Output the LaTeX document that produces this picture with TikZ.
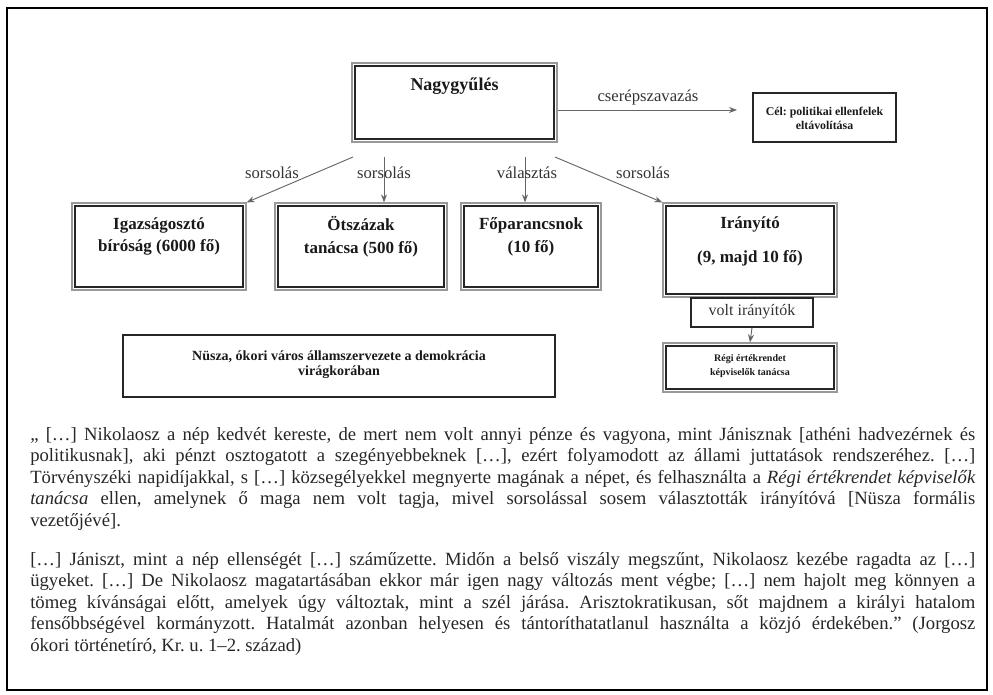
\documentclass[tikz,border=0pt]{standalone}
\usepackage{fontspec}
\setmainfont{Liberation Serif}
\usetikzlibrary{arrows.meta,calc}
\begin{document}
\frenchspacing
\begin{tikzpicture}[x=0.75pt,y=-0.75pt,
  outerbox/.style={draw=black!40, line width=0.9pt, inner sep=0pt},
  singlebox/.style={draw=black!85, line width=1.3pt, inner sep=0pt},
  innerline/.style={draw=black!85, line width=1.5pt},
  arr/.style={draw=black!60, line width=0.7pt, -{Stealth[length=6pt,width=4.5pt]}},
  lbl/.style={font=\fontsize{12.5}{14}\selectfont, text=black!80},
  boxtxt/.style={font=\bfseries\fontsize{12.75}{17}\selectfont, align=center, text=black!90},
  body/.style={anchor=north west, inner sep=0pt, text width=708.75pt, align=justify,
    font=\fontsize{14}{16.1}\selectfont, text=black!85}]
\useasboundingbox (0,0) rectangle (993,695);
\draw[line width=1.6pt] (7,8) rectangle (987,690);

% boxes
\node[outerbox, minimum width=205*0.75pt, minimum height=79*0.75pt] (ngy) at (454.5,102.5) {};
\node[singlebox, minimum width=143*0.75pt, minimum height=49*0.75pt] (cel) at (824.5,117.5) {};
\node[outerbox, minimum width=174*0.75pt, minimum height=87*0.75pt] (igaz) at (159,246.5) {};
\node[outerbox, minimum width=172*0.75pt, minimum height=87*0.75pt] (otsz) at (361,246.5) {};
\node[outerbox, minimum width=140*0.75pt, minimum height=87*0.75pt] (fop) at (531,246.5) {};
\node[outerbox, minimum width=174*0.75pt, minimum height=94*0.75pt] (irany) at (750,250) {};
\node[singlebox, minimum width=122*0.75pt, minimum height=29*0.75pt] (volt) at (752,312.5) {};
\node[outerbox, minimum width=174*0.75pt, minimum height=49*0.75pt] (regi) at (750,367.5) {};
\node[singlebox, minimum width=432*0.75pt, minimum height=62*0.75pt] (nusza) at (339,366) {};

\foreach \n in {ngy,igaz,otsz,fop,irany,regi}
  \draw[innerline] ($(\n.north west)+(4,4)$) rectangle ($(\n.south east)+(-4,-4)$);

% texts in boxes
\node[boxtxt, font=\bfseries\fontsize{13.5}{17}\selectfont] (ngyt) at (454.5,86) {Nagygyűlés};
\node[boxtxt, font=\bfseries\fontsize{8.9}{10.5}\selectfont] (celt) at (824.5,118) {Cél: politikai ellenfelek\\eltávolítása};
\node[boxtxt] (igazt) at (159,236.5) {Igazságosztó\\bíróság (6000 fő)};
\node[boxtxt] (otszt) at (361,236.5) {Ötszázak\\tanácsa (500 fő)};
\node[boxtxt] (fopt) at (531,236.5) {Főparancsnok\\(10 fő)};
\node[boxtxt, font=\bfseries\fontsize{12.75}{25}\selectfont] (iranyt) at (750,241.5) {Irányító\\(9, majd 10 fő)};
\node[lbl, font=\fontsize{12}{14}\selectfont] (voltt) at (752,312) {volt irányítók};
\node[boxtxt, font=\bfseries\fontsize{7.5}{10.5}\selectfont] (regit) at (750,366) {Régi értékrendet\\képviselők tanácsa};
\node[boxtxt, font=\bfseries\fontsize{10.5}{11}\selectfont] (nuszat) at (339,365) {Nüsza, ókori város államszervezete a demokrácia\\virágkorában};

% connectors
\coordinate (s1) at (353,157);
\coordinate (s2) at (384,157);
\coordinate (s3) at (525,157);
\coordinate (s4) at (555,157);
\coordinate (c1) at (737,110);
\draw[arr] (s1) -- (igaz.north east);
\draw[arr] (s2) -- (s2 |- otsz.north);
\draw[arr] (s3) -- (s3 |- fop.north);
\draw[arr] (s4) -- (irany.north west);
\draw[arr] (c1 -| ngy.east) -- (c1);
\draw[arr] (volt.south) -- (regi.north);

\node[lbl] (l1) at (272,173) {sorsolás};
\node[lbl] (l2) at (384,173) {sorsolás};
\node[lbl] (l3) at (527,173) {választás};
\node[lbl] (l4) at (643,173) {sorsolás};
\node[lbl] (l5) at (648,97) {cserépszavazás};

% body text
\node[body] (p1) at (30,427) {„ […] Nikolaosz a nép kedvét kereste, de mert nem volt annyi pénze és vagyona, mint Jánisznak [athéni hadvezérnek és\linebreak
politikusnak], aki pénzt osztogatott a szegényebbeknek […], ezért folyamodott az állami juttatások rendszeréhez. […]\linebreak
Törvényszéki napidíjakkal, s […] közsegélyekkel megnyerte magának a népet, és felhasználta a \textit{Régi értékrendet képviselők\linebreak
tanácsa} ellen, amelynek ő maga nem volt tagja, mivel sorsolással sosem választották irányítóvá [Nüsza formális\linebreak
vezetőjévé].};
\node[body] (p2) at (30,552) {[…] Jániszt, mint a nép ellenségét […] száműzette. Midőn a belső viszály megszűnt, Nikolaosz kezébe ragadta az […]\linebreak
ügyeket. […] De Nikolaosz magatartásában ekkor már igen nagy változás ment végbe; […] nem hajolt meg könnyen a\linebreak
tömeg kívánságai előtt, amelyek úgy változtak, mint a szél járása. Arisztokratikusan, sőt majdnem a királyi hatalom\linebreak
fensőbbségével kormányzott. Hatalmát azonban helyesen és tántoríthatatlanul használta a közjó érdekében.” (Jorgosz\linebreak
ókori történetíró, Kr. u. 1–2. század)};
\end{tikzpicture}
\end{document}
